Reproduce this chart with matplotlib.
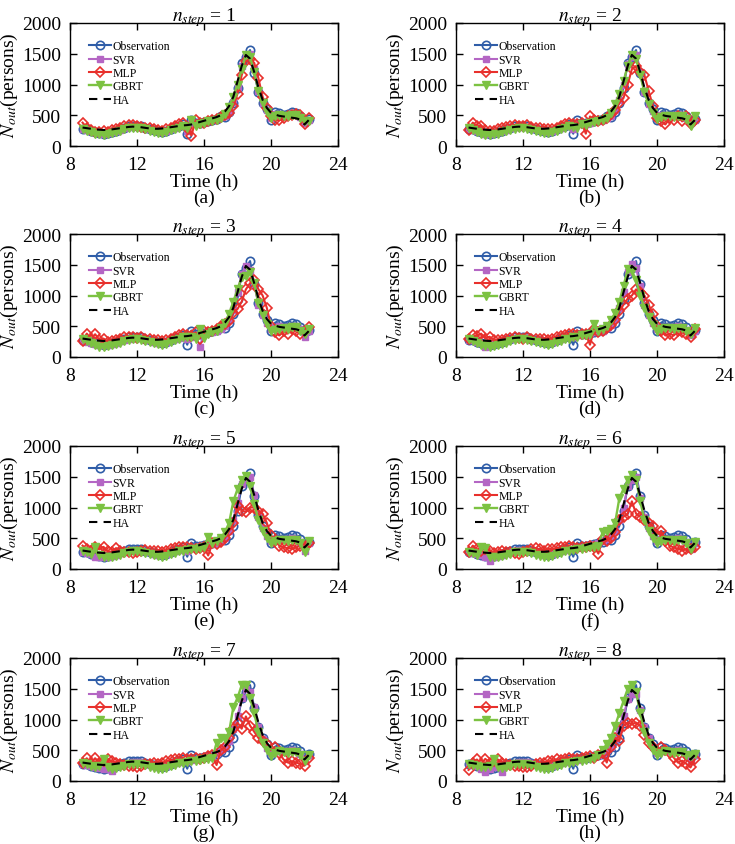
"""
Recreation of the 8-panel multi-step prediction figure (N_out vs time).
"""

import numpy as np
import matplotlib
matplotlib.use("Agg")
import matplotlib.pyplot as plt

plt.rcParams['font.family'] = ['Liberation Serif', 'DejaVu Serif']
plt.rcParams['mathtext.fontset'] = 'stix'

# time stamps, 15-min intervals (h)
time_h = np.arange(8.75, 22.3, 0.25)

obs = [280, 270, 250, 225, 205, 200, 210, 230, 250, 270,
       300, 320, 330, 330, 320, 300, 280, 260, 240, 230,
       250, 280, 310, 330, 350, 200, 430, 380, 370, 390,
       410, 420, 440, 480, 470, 560, 700, 950, 1350, 1450,
       1560, 1180, 880, 700, 600, 420, 560, 540, 500, 520,
       550, 540, 480, 400, 440]

ha = [300, 290, 280, 270, 265, 260, 265, 270, 280, 290,
      300, 310, 315, 310, 305, 295, 285, 280, 280, 285,
      295, 305, 315, 325, 335, 340, 350, 370, 390, 410,
      430, 450, 470, 500, 560, 650, 800, 1050, 1300, 1480,
      1420, 1200, 950, 750, 620, 540, 510, 490, 480, 470,
      460, 450, 430, 350, 420]

# n_step = 1
svr1 = [270, 260, 240, 220, 205, 200, 210, 225, 245, 265, 290, 310, 320, 325, 315, 300, 280, 260, 240, 230,
        245, 270, 300, 320, 340, 250, 380, 370, 365, 385, 400, 415, 435, 470, 480, 560, 720, 960, 1300, 1470,
        1500, 1250, 900, 700, 580, 450, 520, 520, 500, 510, 530, 520, 470, 380, 420]
mlp1 = [380, 300, 260, 230, 220, 240, 230, 260, 270, 300, 320, 340, 340, 330, 310, 300, 290, 280, 260, 250,
        270, 300, 330, 350, 370, 300, 170, 420, 380, 380, 400, 420, 440, 470, 500, 540, 650, 850, 1150, 1380,
        1420, 1350, 1100, 800, 620, 480, 420, 420, 460, 480, 500, 520, 500, 350, 450]
gbrt1 = [280, 250, 220, 200, 190, 180, 200, 210, 230, 250, 270, 290, 300, 300, 290, 270, 250, 230, 210, 210,
         230, 260, 280, 300, 330, 300, 420, 330, 350, 380, 400, 410, 430, 460, 520, 640, 800, 1000, 1250, 1480,
         1450, 1200, 900, 700, 560, 450, 480, 500, 490, 480, 500, 500, 450, 400, 410]

# n_step = 2
svr2 = [270, 255, 240, 220, 200, 195, 205, 220, 240, 260, 285, 305, 315, 320, 310, 295, 275, 255, 240, 235,
        250, 275, 300, 320, 335, 280, 360, 370, 365, 380, 400, 410, 430, 460, 490, 580, 740, 1000, 1340, 1450,
        1480, 1200, 880, 690, 570, 460, 500, 510, 490, 500, 520, 510, 460, 370, 430]
mlp2 = [260, 380, 320, 330, 260, 250, 240, 270, 290, 310, 330, 340, 330, 320, 340, 310, 300, 290, 280, 270,
        280, 300, 320, 350, 380, 360, 350, 380, 200, 480, 420, 400, 430, 460, 520, 580, 700, 780, 1000, 1250,
        1300, 1200, 1150, 900, 650, 450, 400, 350, 450, 420, 480, 400, 480, 350, 420]
gbrt2 = [300, 260, 230, 200, 185, 175, 190, 200, 220, 240, 260, 280, 290, 290, 280, 265, 245, 225, 210, 205,
         220, 250, 275, 295, 320, 310, 300, 350, 340, 370, 390, 400, 420, 460, 540, 680, 850, 1050, 1300, 1480,
         1420, 1150, 880, 680, 540, 440, 470, 490, 480, 470, 490, 490, 440, 320, 480]

# n_step = 3
svr3 = [260, 250, 230, 210, 195, 190, 200, 215, 235, 255, 280, 300, 310, 315, 305, 290, 270, 250, 235, 230,
        245, 270, 295, 315, 330, 300, 330, 360, 170, 390, 400, 410, 430, 460, 500, 600, 760, 1050, 1350, 1480,
        1420, 1180, 850, 680, 560, 450, 490, 500, 480, 490, 510, 500, 450, 330, 430]
mlp3 = [260, 380, 300, 370, 280, 300, 250, 260, 280, 300, 320, 330, 320, 310, 330, 300, 290, 280, 270, 260,
        280, 300, 320, 350, 380, 360, 340, 400, 300, 420, 400, 420, 450, 500, 540, 580, 720, 780, 900, 1100,
        1200, 1250, 1100, 1000, 800, 500, 400, 350, 420, 380, 450, 420, 380, 420, 480]
gbrt3 = [290, 260, 220, 190, 170, 170, 185, 200, 215, 235, 255, 275, 285, 285, 275, 260, 240, 220, 205, 200,
         215, 245, 270, 290, 320, 330, 320, 300, 460, 310, 380, 400, 420, 470, 560, 700, 900, 1100, 1300, 1320,
         1380, 1200, 880, 680, 530, 430, 440, 460, 470, 460, 480, 480, 430, 380, 460]

# n_step = 4
svr4 = [280, 270, 250, 220, 160, 200, 210, 225, 245, 265, 290, 310, 320, 320, 310, 295, 275, 255, 240, 235,
        250, 275, 300, 320, 335, 320, 350, 360, 370, 390, 400, 410, 430, 470, 520, 620, 800, 1050, 1380, 1520,
        1450, 1150, 850, 680, 560, 450, 480, 490, 480, 490, 500, 490, 440, 350, 430]
mlp4 = [290, 350, 340, 380, 300, 330, 280, 270, 280, 300, 310, 320, 310, 300, 320, 300, 290, 290, 300, 280,
        300, 320, 340, 360, 380, 370, 360, 380, 370, 200, 450, 400, 420, 470, 520, 600, 750, 850, 950, 1000,
        1100, 1050, 1000, 850, 700, 500, 420, 350, 380, 350, 420, 400, 380, 330, 450]
gbrt4 = [300, 260, 230, 200, 180, 170, 180, 200, 215, 235, 255, 275, 285, 285, 275, 260, 240, 220, 205, 200,
         215, 240, 265, 285, 300, 320, 330, 350, 360, 380, 540, 420, 450, 500, 600, 720, 900, 1150, 1430, 1400,
         1250, 1000, 800, 650, 520, 420, 450, 470, 470, 460, 470, 470, 430, 380, 470]

# n_step = 5
svr5 = [270, 260, 240, 200, 190, 190, 200, 215, 235, 255, 280, 300, 310, 315, 305, 290, 270, 250, 235, 230,
        245, 270, 295, 315, 330, 300, 340, 360, 370, 390, 400, 410, 430, 460, 510, 620, 800, 1080, 1380, 1450,
        1500, 1200, 850, 660, 540, 450, 480, 490, 480, 490, 500, 490, 440, 300, 420]
mlp5 = [380, 320, 300, 360, 320, 360, 290, 280, 340, 300, 280, 270, 260, 280, 300, 310, 300, 290, 300, 280,
        300, 320, 340, 350, 360, 350, 340, 330, 340, 360, 220, 420, 400, 440, 500, 620, 750, 1020, 950, 930,
        1000, 1000, 950, 900, 750, 550, 450, 380, 350, 340, 330, 350, 380, 350, 420]
gbrt5 = [290, 270, 240, 350, 220, 200, 190, 200, 215, 235, 255, 275, 285, 285, 275, 260, 240, 220, 205, 200,
         215, 240, 265, 285, 300, 310, 320, 330, 340, 360, 520, 430, 460, 500, 600, 750, 1100, 1300, 1450, 1520,
         1350, 1050, 800, 620, 500, 420, 450, 470, 470, 460, 470, 470, 430, 280, 460]

# n_step = 6
svr6 = [280, 260, 240, 220, 200, 130, 200, 215, 235, 255, 280, 300, 310, 315, 305, 290, 270, 250, 235, 230,
        245, 270, 295, 315, 330, 320, 340, 360, 370, 390, 400, 420, 450, 480, 520, 620, 800, 1000, 1350, 1450,
        1500, 1150, 850, 660, 540, 450, 480, 490, 480, 490, 500, 490, 440, 330, 430]
mlp6 = [270, 380, 320, 300, 330, 300, 260, 280, 300, 280, 270, 260, 250, 280, 300, 320, 340, 320, 300, 330,
        320, 340, 350, 360, 370, 350, 340, 360, 350, 370, 360, 250, 480, 460, 500, 600, 800, 850, 900, 1100,
        900, 850, 800, 750, 700, 560, 620, 450, 380, 350, 330, 300, 320, 320, 350]
gbrt6 = [280, 260, 230, 350, 340, 200, 190, 200, 210, 230, 250, 270, 280, 280, 270, 255, 235, 215, 200, 200,
         215, 240, 265, 285, 300, 310, 320, 330, 340, 350, 360, 370, 600, 620, 650, 750, 1150, 1300, 1450, 1530,
         1450, 1100, 800, 620, 500, 420, 450, 470, 470, 460, 470, 470, 430, 330, 440]

# n_step = 7
svr7 = [280, 260, 240, 220, 210, 200, 190, 160, 240, 260, 280, 300, 310, 315, 305, 290, 270, 250, 235, 230,
        245, 270, 295, 315, 330, 320, 340, 360, 370, 390, 400, 420, 450, 500, 550, 650, 850, 1050, 1350, 1500,
        1450, 1200, 870, 680, 540, 450, 480, 490, 480, 490, 500, 490, 440, 330, 430]
mlp7 = [300, 370, 300, 370, 300, 330, 360, 320, 300, 280, 260, 240, 250, 230, 250, 270, 280, 300, 280, 300,
        320, 340, 350, 360, 370, 350, 360, 380, 360, 380, 400, 420, 260, 500, 550, 700, 850, 950, 850, 1050,
        900, 800, 700, 650, 600, 500, 550, 450, 350, 300, 320, 300, 280, 250, 380]
gbrt7 = [290, 270, 240, 220, 250, 350, 220, 200, 210, 230, 250, 270, 280, 280, 270, 255, 235, 215, 200, 200,
         215, 240, 265, 285, 300, 310, 320, 330, 340, 350, 360, 370, 620, 700, 680, 800, 1200, 1350, 1560, 1560,
         1350, 1100, 800, 620, 500, 400, 460, 480, 470, 460, 470, 470, 430, 330, 430]

# n_step = 8
svr8 = [280, 260, 240, 200, 150, 200, 220, 230, 150, 260, 280, 300, 310, 315, 305, 290, 270, 250, 235, 230,
        245, 270, 295, 315, 330, 320, 340, 360, 370, 390, 400, 420, 450, 500, 560, 680, 850, 1050, 1330, 1420,
        1420, 1150, 870, 700, 560, 450, 480, 490, 480, 490, 500, 490, 440, 330, 430]
mlp8 = [180, 300, 350, 280, 360, 300, 330, 350, 300, 280, 260, 250, 240, 220, 230, 250, 270, 290, 300, 320,
        330, 350, 340, 360, 380, 350, 360, 370, 390, 400, 380, 420, 450, 300, 550, 700, 650, 900, 950, 920,
        950, 900, 750, 620, 550, 480, 550, 500, 450, 380, 300, 330, 280, 220, 350]
gbrt8 = [280, 260, 240, 220, 230, 250, 360, 220, 210, 230, 250, 270, 280, 280, 270, 255, 235, 215, 200, 200,
         215, 240, 265, 285, 300, 310, 320, 330, 340, 350, 380, 420, 500, 600, 700, 900, 1100, 1300, 1500, 1560,
         1450, 1100, 800, 620, 500, 420, 460, 480, 470, 460, 470, 470, 430, 400, 440]

steps = [1, 2, 3, 4, 5, 6, 7, 8]
panel_labels = ['(a)', '(b)', '(c)', '(d)', '(e)', '(f)', '(g)', '(h)']
svr_all = [svr1, svr2, svr3, svr4, svr5, svr6, svr7, svr8]
mlp_all = [mlp1, mlp2, mlp3, mlp4, mlp5, mlp6, mlp7, mlp8]
gbrt_all = [gbrt1, gbrt2, gbrt3, gbrt4, gbrt5, gbrt6, gbrt7, gbrt8]

C_OBS = '#2f5da8'
C_SVR = '#b466c4'
C_MLP = '#e8302c'
C_GBRT = '#7cc242'

W, H = 735, 845
fig = plt.figure(figsize=(W / 100, H / 100), dpi=100)

col_left = [70, 456]
row_top = [24, 235, 447, 659]
ax_w, ax_h = 268, 123

for k in range(8):
    r, c = divmod(k, 2)
    ax = fig.add_axes([col_left[c] / W, 1 - (row_top[r] + ax_h) / H, ax_w / W, ax_h / H])

    ax.plot(time_h, obs, '-o', color=C_OBS, mfc='none', mec=C_OBS, ms=6, mew=1.2, lw=1.5,
            label='Observation', zorder=2)
    ax.plot(time_h, svr_all[k], '-s', color=C_SVR, ms=4.5, lw=1.5, label='SVR', zorder=3)
    ax.plot(time_h, mlp_all[k], '-D', color=C_MLP, mfc='none', mec=C_MLP, ms=5, mew=1.2, lw=1.5,
            label='MLP', zorder=4)
    ax.plot(time_h, gbrt_all[k], '-v', color=C_GBRT, ms=6, lw=1.7, label='GBRT', zorder=5)
    ax.plot(time_h, ha, '--', color='black', lw=1.5, dashes=(4, 3), label='HA', zorder=6)

    ax.set_xlim(8, 24)
    ax.set_ylim(0, 2000)
    ax.set_xticks([8, 12, 16, 20, 24])
    ax.set_yticks([0, 500, 1000, 1500, 2000])
    ax.tick_params(direction='in', top=True, right=True, length=5, width=1,
                   labelsize=14)
    ax.tick_params(axis='x', pad=7)
    ax.tick_params(axis='y', pad=6.5)
    for sp in ax.spines.values():
        sp.set_linewidth(1.0)

    ax.set_title(r'$n_{step}$' + ' = %d' % steps[k], fontsize=14, pad=2)
    ax.set_xlabel('Time (h)', fontsize=14, labelpad=0)
    ax.set_ylabel(r'$N_{out}$(persons)', fontsize=14, labelpad=1)
    ax.text(0.5, -0.42, panel_labels[k], transform=ax.transAxes, ha='center', va='center',
            fontsize=14)

    ax.legend(loc='upper left', bbox_to_anchor=(0.07, 0.86), frameon=False, fontsize=8.5,
              borderpad=0, borderaxespad=0, labelspacing=0.12, handlelength=1.9,
              handletextpad=0.1)

fig.savefig('out.png', dpi=100)
